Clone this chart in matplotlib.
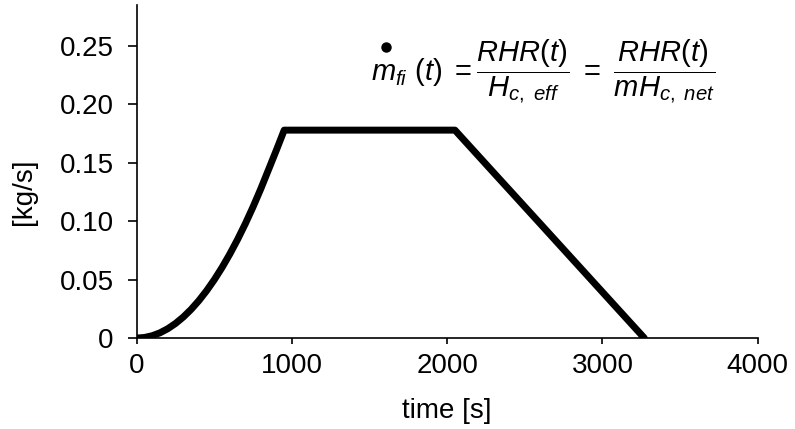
import matplotlib.pyplot as plt

plt.rcParams['font.family'] = ['Liberation Sans', 'DejaVu Sans']
plt.rcParams['mathtext.fontset'] = 'custom'
plt.rcParams['mathtext.rm'] = 'Liberation Sans'
plt.rcParams['mathtext.it'] = 'Liberation Sans:italic'

# mass loss rate
time_s = [0, 50, 100, 150, 200, 250, 300, 350, 400, 450, 500, 550, 600, 650,
          700, 750, 800, 850, 900, 950, 1200, 1500, 1800, 2050, 2300, 2600,
          2900, 3100, 3270]
rate = [0.0, 0.0005, 0.002, 0.0045, 0.008, 0.0125, 0.018, 0.0245, 0.032,
        0.0405, 0.050, 0.0605, 0.072, 0.0845, 0.098, 0.1125, 0.128, 0.1445,
        0.161, 0.178, 0.178, 0.178, 0.178, 0.178, 0.1415, 0.0978, 0.0540,
        0.0248, 0.0]

xticks = [0, 1000, 2000, 3000, 4000]
yticks = [0, 0.05, 0.10, 0.15, 0.20, 0.25]
ytick_labels = ['0', '0.05', '0.10', '0.15', '0.20', '0.25']

fig = plt.figure(figsize=(7.95, 4.29), dpi=100)
ax = fig.add_axes([0.172, 0.212, 0.781, 0.776])

ax.plot(time_s, rate, color='black', lw=5, solid_capstyle='round',
        solid_joinstyle='round')

ax.set_xlim(0, 4000)
ax.set_ylim(0, 0.285)
ax.set_xticks(xticks)
ax.set_yticks(yticks)
ax.set_yticklabels(ytick_labels)
ax.tick_params(labelsize=20, width=1.2, direction='out')
ax.tick_params(axis='x', length=4.5, pad=6)
ax.tick_params(axis='y', length=6.5, pad=10)
for s in ['top', 'right']:
    ax.spines[s].set_visible(False)
for s in ['left', 'bottom']:
    ax.spines[s].set_linewidth(1.2)

ax.set_xlabel('time [s]', fontsize=20, labelpad=14)
ax.set_ylabel('[kg/s]', fontsize=20)
ax.yaxis.set_label_coords(-0.16, 0.44)

# mass flow formula; the time-derivative dot is a big bullet in the original
ax.text(0.378, 0.80,
        r'$m_{fi}\ (t)\ =\dfrac{RHR(t)}{H_{c,\ eff}}\ =\ \dfrac{RHR(t)}{mH_{c,\ net}}$',
        transform=ax.transAxes, fontsize=21, va='center', ha='left')
ax.plot([0.401], [0.874], 'o', color='black', ms=6.5, transform=ax.transAxes,
        clip_on=False)

fig.savefig('out.png', dpi=100)
